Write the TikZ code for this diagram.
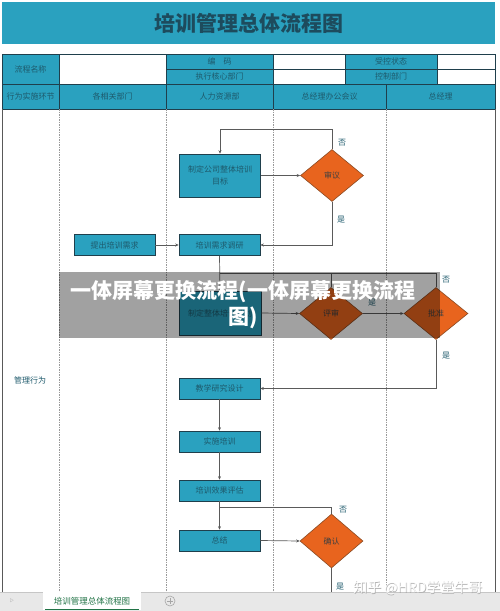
\documentclass[tikz,border=0pt]{standalone}
\usepackage{fontspec}
\newfontfamily\cjk{Noto Sans CJK SC}
\usetikzlibrary{shapes.geometric,arrows.meta}
\definecolor{teal1}{HTML}{2AA1BF}
\definecolor{tealtxt}{HTML}{1E5A6C}
\definecolor{titletxt}{HTML}{1D4B5D}
\definecolor{gridc}{HTML}{1F3F4C}
\definecolor{orng}{HTML}{E8641E}
\definecolor{orngb}{HTML}{8A4A22}
\definecolor{linec}{HTML}{5A5A5A}
\definecolor{tabgreen}{HTML}{217346}
\tikzset{
  cell/.style={draw=gridc,line width=0.7pt,fill=teal1},
  wcell/.style={draw=gridc,line width=0.7pt,fill=white},
  htext/.style={font=\cjk\fontsize{8}{9}\selectfont,text=tealtxt},
  procbox/.style={draw=gridc,line width=0.6pt,fill=teal1,minimum width=81pt,minimum height=21pt,inner sep=0pt,font=\cjk\fontsize{8}{12}\selectfont,text=tealtxt,align=center},
  decis/.style={diamond,draw=orngb,line width=0.6pt,fill=orng,minimum width=63pt,minimum height=52pt,inner sep=0pt,aspect=1.2,font=\cjk\fontsize{8}{9}\selectfont,text=black!75},
  conn/.style={draw=linec,line width=0.7pt},
  arr/.style={conn,-{Stealth[length=3.5pt,width=3pt]}},
  lbl/.style={font=\cjk\fontsize{8}{9}\selectfont,text=tealtxt},
  lane/.style={draw=gray!80,line width=0.5pt,dash pattern=on 1.5pt off 1pt}
}
\begin{document}
\begin{tikzpicture}[x=1pt,y=-1pt]
\useasboundingbox (0,0) rectangle (500,611);
\fill[white] (0,0) rectangle (500,611);
% title
\fill[teal1] (2,2) rectangle (495,44);
\node[font=\cjk\bfseries\fontsize{21}{24}\selectfont,text=titletxt] (title) at (248.5,23) {培训管理总体流程图};
% header table
\draw[cell] (2,54) rectangle (59,84);
\draw[wcell] (59,54) rectangle (166,84);
\draw[cell] (166,54) rectangle (273,69);
\draw[cell] (166,69) rectangle (273,84);
\draw[wcell] (273,54) rectangle (345,69);
\draw[wcell] (273,69) rectangle (345,84);
\draw[cell] (345,54) rectangle (437,69);
\draw[cell] (345,69) rectangle (437,84);
\draw[wcell] (437,54) rectangle (495,69);
\draw[wcell] (437,69) rectangle (495,84);
\draw[cell] (2,84) rectangle (59,109);
\draw[cell] (59,84) rectangle (166,109);
\draw[cell] (166,84) rectangle (273,109);
\draw[cell] (273,84) rectangle (386,109);
\draw[cell] (386,84) rectangle (495,109);
\node[htext] (h1) at (30.5,69) {流程名称};
\node[htext] (h2) at (219.5,61.5) {编\quad 码};
\node[htext] (h3) at (219.5,76.5) {执行核心部门};
\node[htext] (h4) at (391,61.5) {受控状态};
\node[htext] (h5) at (391,76.5) {控制部门};
\node[htext] (h6) at (30.5,96.5) {行为实施环节};
\node[htext] (h7) at (112.5,96.5) {各相关部门};
\node[htext] (h8) at (219.5,96.5) {人力资源部};
\node[htext] (h9) at (329.5,96.5) {总经理办公会议};
\node[htext] (h10) at (440.5,96.5) {总经理};
% body frame
\draw[draw=gray!70!black,line width=0.7pt] (2,109) -- (2,592);
\draw[draw=gray!70!black,line width=0.7pt] (495,109) -- (495,592);
\foreach \xx in {59,166,273,386} \draw[lane] (\xx,109) -- (\xx,592);
\node[htext] (mgmt) at (30,380.5) {管理行为};
% process nodes
\node[procbox,minimum height=43pt] (goal) at (220,175.5) {制定公司整体培训\\目标};
\node[decis] (rev) at (332,175.5) {审议};
\node[procbox] (need) at (114.5,245) {提出培训需求};
\node[procbox] (survey) at (219.5,245) {培训需求调研};
\node[procbox,minimum width=82pt,minimum height=44pt] (plan) at (220,313) {制定整体培训计划};
\node[decis] (ping) at (331,313.5) {评审};
\node[decis,minimum width=64pt] (pz) at (436,313.5) {批准};
\node[procbox] (design) at (219.5,388.5) {教学研究设计};
\node[procbox] (impl) at (219.5,441.5) {实施培训};
\node[procbox] (eval) at (219.5,490.5) {培训效果评估};
\node[procbox] (sum) at (219.5,540.5) {总结};
\node[decis,minimum height=54pt] (conf) at (331.5,541) {确认};
\coordinate (j1) at (220,273);
\coordinate (j2) at (220,507);
\coordinate (endc) at (331.5,592);
% connectors
\draw[arr] (goal.east) -- (rev.west);
\draw[arr] (rev.north) -- ++(0,-20) -| (goal.north);
\draw[arr] (rev.south) |- (survey.east);
\draw[arr] (need.east) -- (survey.west);
\draw[arr] (survey.south) -- (plan.north);
\draw[arr] (plan.east) -- (ping.west);
\draw[arr] (ping.east) -- (pz.west);
\draw[conn] (pz.north) |- (j1);
\draw[conn] (ping.north) -- (ping.north |- j1);
\draw[arr] (pz.south) |- (design.east);
\draw[arr] (design.south) -- (impl.north);
\draw[arr] (impl.south) -- (eval.north);
\draw[arr] (eval.south) -- (sum.north);
\draw[arr] (sum.east) -- (conf.west);
\draw[conn] (conf.north) |- (j2);
\draw[conn] (conf.south) -- (endc);
% labels
\node[lbl] (l1) at (342,143) {否};
\node[lbl] (l2) at (341,220) {是};
\node[lbl] (l3) at (372,303) {是};
\node[lbl] (l4) at (446,280) {否};
\node[lbl] (l5) at (446,356) {是};
\node[lbl] (l6) at (343,510) {否};
\node[lbl] (l7) at (340,587) {是};
% overlay banner
\fill[black,opacity=0.37] (59,272) rectangle (440,338);
\node[font=\cjk\bfseries\fontsize{21}{26}\selectfont,text=white,align=center] (banner) at (243,305) {一体屏幕更换流程(一体屏幕更换流程\\图)};
% bottom tab bar
\fill[gray!18] (0,592) rectangle (500,611);
\draw[gray!45,line width=0.5pt] (0,592) -- (500,592);
\fill[white] (43,592) rectangle (141,610);
\draw[tabgreen,line width=0.8pt] (45,609.5) -- (139,609.5);
\node[font=\cjk\fontsize{8.5}{10}\selectfont,text=tabgreen] (tab) at (92,601) {培训管理总体流程图};
\node[font=\fontsize{7}{8}\selectfont,text=gray!60] (tri) at (12,601) {$\triangleright$};
\draw[gray!70,line width=0.6pt] (170,601) circle (5);
\draw[gray!70,line width=0.6pt] (167,601) -- (173,601) (170,598) -- (170,604);
% watermark
\node[font=\cjk\fontsize{14}{16}\selectfont,text=gray!60] (wm0) at (418.6,588.6) {知乎 @HRD学堂牛哥};
\node[font=\cjk\fontsize{14}{16}\selectfont,text=white,opacity=0.9] (wm) at (418,588) {知乎 @HRD学堂牛哥};
\end{tikzpicture}
\end{document}
